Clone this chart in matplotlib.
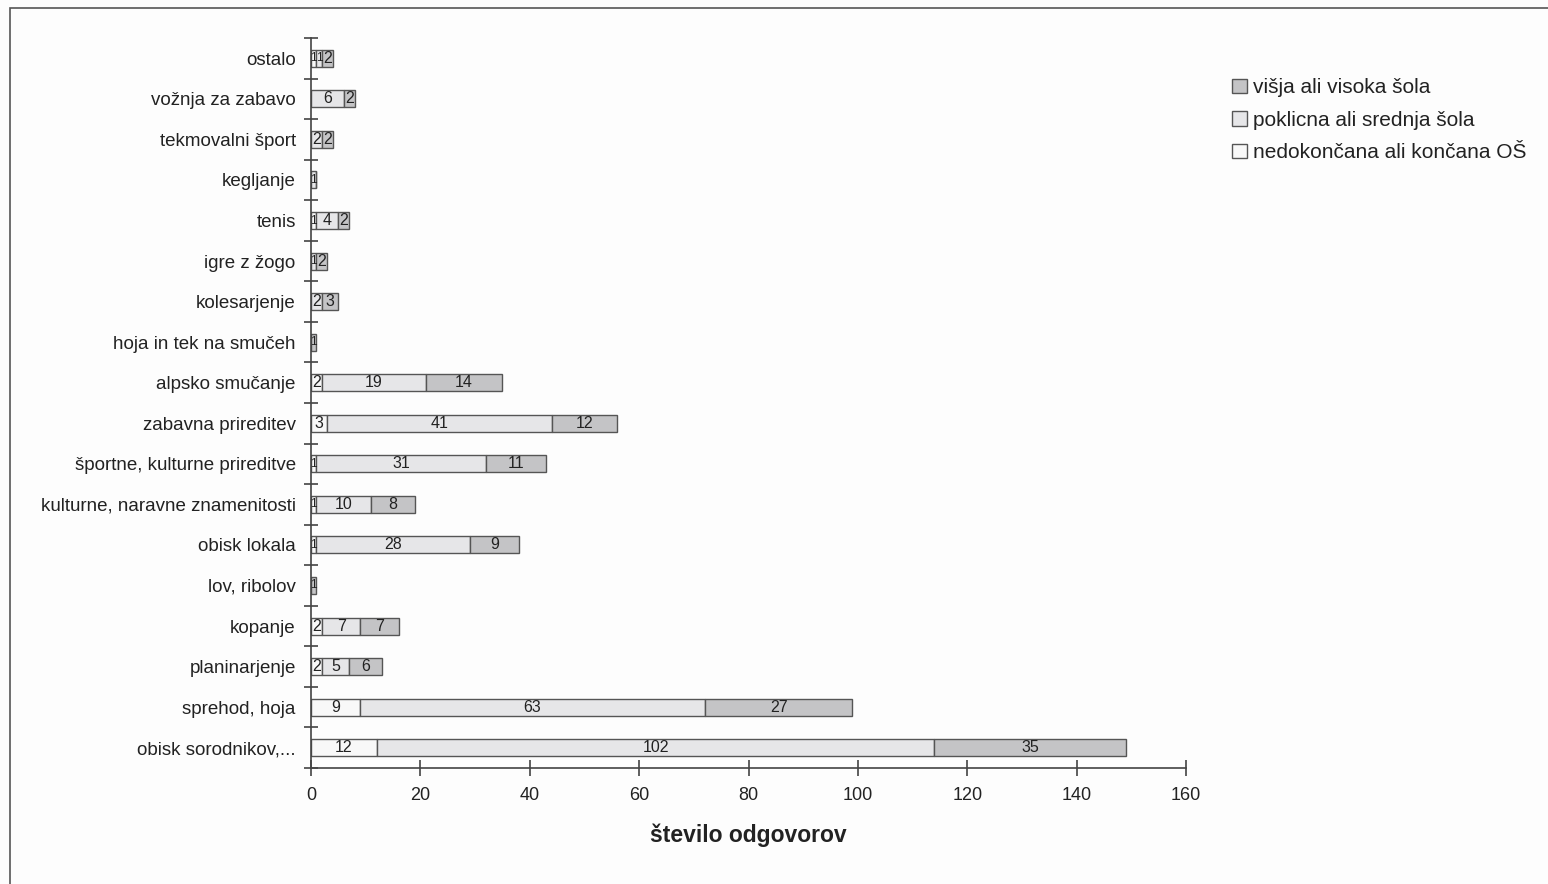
import matplotlib
matplotlib.use("Agg")
import matplotlib.pyplot as plt
from matplotlib.patches import Rectangle
import numpy as np

plt.rcParams['font.family'] = ['Liberation Sans', 'DejaVu Sans']

categories = ["obisk sorodnikov,...", "sprehod, hoja", "planinarjenje", "kopanje",
              "lov, ribolov", "obisk lokala", "kulturne, naravne znamenitosti",
              "športne, kulturne prireditve", "zabavna prireditev", "alpsko smučanje",
              "hoja in tek na smučeh", "kolesarjenje", "igre z žogo", "tenis",
              "kegljanje", "tekmovalni šport", "vožnja za zabavo", "ostalo"]
nedokoncana = [12, 9, 2, 2, 0, 1, 1, 1, 3, 2, 0, 0, 0, 1, 0, 0, 0, 1]
poklicna    = [102, 63, 5, 7, 0, 28, 10, 31, 41, 19, 0, 2, 1, 4, 1, 2, 6, 1]
visja       = [35, 27, 6, 7, 1, 9, 8, 11, 12, 14, 1, 3, 2, 2, 0, 2, 2, 2]
series_names = ["nedokončana ali končana OŠ", "poklicna ali srednja šola", "višja ali visoka šola"]
xticks = [0, 20, 40, 60, 80, 100, 120, 140, 160]

colors = ["#f8f8f8", "#e6e6e8", "#c4c4c6"]

fig = plt.figure(figsize=(15.48, 8.84), dpi=100)
fig.patch.set_facecolor("#fdfdfd")
ax = fig.add_axes([311/1548, 1-768/884, (1186-311)/1548, (768-38)/884])
ax.set_facecolor("none")

y = np.arange(len(categories))
left = np.zeros(len(categories))
handles = []
for vals, c, name in zip([nedokoncana, poklicna, visja], colors, series_names):
    vals = np.array(vals, dtype=float)
    bars = ax.barh(y, vals, left=left, height=0.42, color=c, edgecolor="#555555",
                   linewidth=1.0, label=name)
    for yi, (l, v) in enumerate(zip(left, vals)):
        if v > 0:
            fs = 8.5 if v < 2 else 11.5
            ax.text(l + v/2, yi, f"{int(v)}", ha="center", va="center", fontsize=fs,
                    color="#222222")
    handles.append(bars)
    left += vals

ax.set_xlim(0, 160)
ax.set_ylim(-0.5, len(categories) - 0.5)
ax.set_xticks(xticks)
ax.set_xticklabels([str(t) for t in xticks], fontsize=13, color="#222222")
ax.set_yticks(y)
ax.set_yticklabels(categories, fontsize=13.5, color="#222222")
ax.tick_params(axis="y", which="major", length=0, pad=11)
ax.set_yticks(np.arange(-0.5, len(categories), 1.0), minor=True)
ax.tick_params(axis="y", which="minor", direction="inout", length=10, width=1.2, color="#444444")
ax.tick_params(axis="x", which="major", direction="inout", length=12, width=1.2, color="#444444", pad=8)
for s in ["top", "right"]:
    ax.spines[s].set_visible(False)
for s in ["left", "bottom"]:
    ax.spines[s].set_color("#444444")
    ax.spines[s].set_linewidth(1.2)
ax.set_xlabel("število odgovorov", fontsize=16.5, fontweight="bold", color="#222222", labelpad=14)

leg = ax.legend(handles=handles[::-1], labels=series_names[::-1], loc="upper left",
                bbox_to_anchor=(1224/1548, 1-70/884), bbox_transform=fig.transFigure,
                frameon=False, fontsize=15, handlelength=0.7, handleheight=0.7,
                handletextpad=0.3, labelspacing=0.65, borderaxespad=0)
for t in leg.get_texts():
    t.set_color("#222222")

fig.patches.append(Rectangle((10/1548, -0.01), 1.0, 1-8/884 + 0.01, transform=fig.transFigure,
                             fill=False, edgecolor="#555555", linewidth=1.2))

fig.savefig("out.png", dpi=100, facecolor=fig.get_facecolor())
